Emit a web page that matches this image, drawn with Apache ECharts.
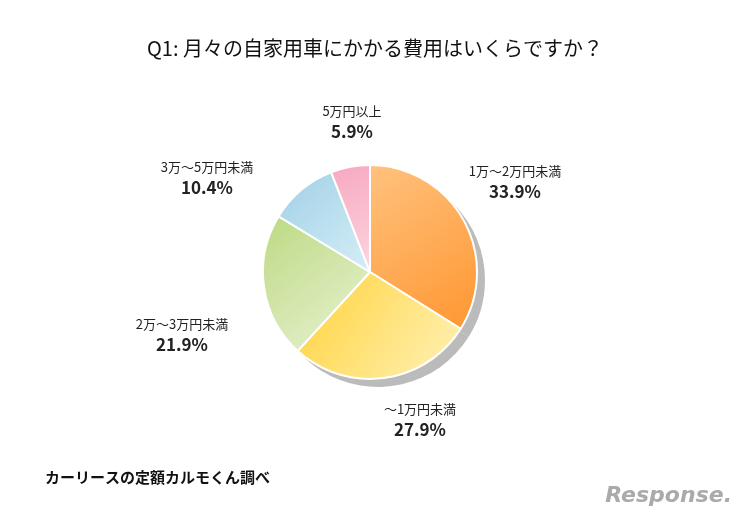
<!DOCTYPE html>
<html><head><meta charset="utf-8">
<script src="https://cdn.jsdelivr.net/npm/echarts@6/dist/echarts.min.js"></script>
<style>html,body{margin:0;padding:0;background:#fff}#c{width:750px;height:520px}</style>
</head><body><div id="c"></div>
<script>
var names = ['1万～2万円未満', '～1万円未満', '2万～3万円未満', '3万～5万円未満', '5万円以上'];
var values = [33.9, 27.9, 21.9, 10.4, 5.9];
var colorsA = ['#ffc27e', '#ffd23a', '#bcd982', '#9fd0e6', '#f7a8c0'];
var colorsB = ['#ff9630', '#fff2b8', '#eaf3d6', '#d6eef7', '#fcd6e2'];
// label centres, as placed in the original
var labelPos = [[515, 182], [420, 420], [182, 335], [207, 178], [352, 122]];

var chart = echarts.init(document.getElementById('c'));
var data = [];
for (var i = 0; i < names.length; i++) {
    data.push({
        name: names[i],
        value: values[i],
        itemStyle: {
            color: new echarts.graphic.LinearGradient(0, 0, 1, 1, [
                {offset: 0, color: colorsA[i]},
                {offset: 1, color: colorsB[i]}
            ])
        }
    });
}
var font = '"Noto Sans CJK JP", sans-serif';
chart.setOption({
    animation: false,
    title: {
        text: 'Q1: 月々の自家用車にかかる費用はいくらですか？',
        left: 'center', top: 33,
        textStyle: {fontFamily: font, fontSize: 20, fontWeight: 'normal', color: '#111'}
    },
    graphic: [
        {type: 'text', left: 45, top: 470, style: {text: 'カーリースの定額カルモくん調べ', font: 'bold 15px ' + font, fill: '#111'}},
        {type: 'text', right: 18, top: 485, style: {text: 'Response.', font: 'italic bold 22px "DejaVu Sans", sans-serif', fill: '#aaa'}}
    ],
    series: [
        {
            type: 'pie', center: [378, 280], radius: 107, startAngle: 90, silent: true,
            data: values.map(function (v) { return {value: v, itemStyle: {color: '#bbb'}}; }),
            label: {show: false}, labelLine: {show: false}, z: 1
        },
        {
            type: 'pie', center: [370, 272], radius: 107, startAngle: 90, clockwise: true,
            data: data, z: 2,
            itemStyle: {borderColor: '#fff', borderWidth: 2},
            labelLine: {show: false},
            labelLayout: function (p) {
                var q = labelPos[p.dataIndex];
                return {x: q[0], y: q[1], align: 'center', verticalAlign: 'middle'};
            },
            label: {
                position: 'outside', align: 'center',
                fontFamily: font,
                formatter: function (p) { return '{n|' + p.name + '}\n{v|' + p.value.toFixed(1) + '%}'; },
                rich: {
                    n: {fontFamily: font, fontSize: 13, color: '#222', lineHeight: 19, align: 'center'},
                    v: {fontFamily: font, fontSize: 17, fontWeight: 'bold', color: '#222', lineHeight: 21, align: 'center'}
                }
            }
        }
    ]
});
</script></body></html>
